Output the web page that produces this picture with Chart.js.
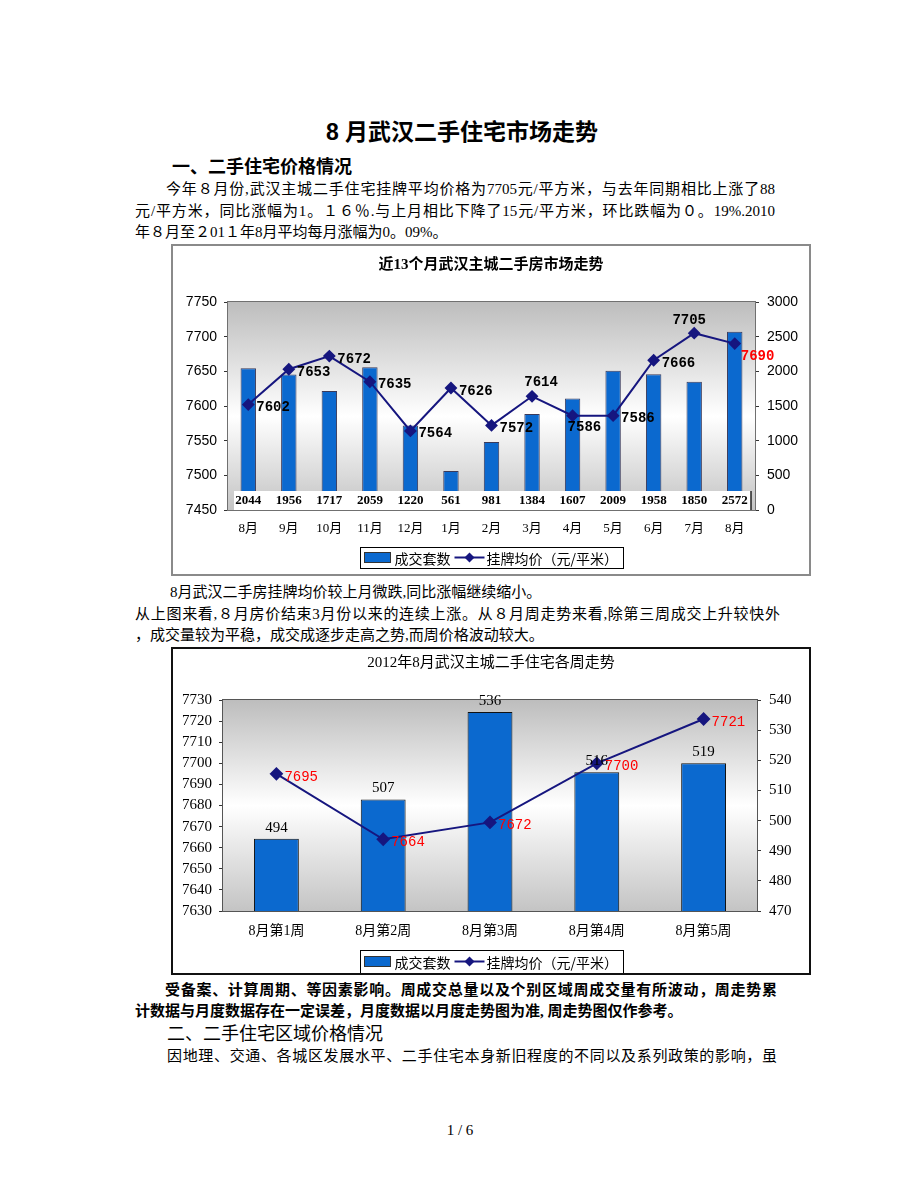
<!DOCTYPE html>
<html>
<head>
<meta charset="utf-8">
<script src="https://cdn.jsdelivr.net/npm/chart.js@4.4.0/dist/chart.umd.min.js"></script>
<style>
body{margin:0;background:#fff;}
#page{position:relative;width:920px;height:1191px;overflow:hidden;color:#000;
  font-family:"Liberation Serif","Noto Sans CJK SC",serif;}
.ln{position:absolute;white-space:nowrap;font-size:15px;line-height:20px;height:20px;}
.jf{text-align:justify;text-align-last:justify;}
.b{font-weight:bold;}
.hd{font-family:"Liberation Sans","Noto Sans CJK SC",sans-serif;font-size:18px;line-height:24px;height:24px;}
.frame{position:absolute;box-sizing:border-box;pointer-events:none;}
canvas{position:absolute;}
</style>
</head>
<body>
<div id="page">
  <div class="ln hd b" style="left:0;width:924px;text-align:center;top:118px;font-size:23px;line-height:28px;height:28px;">8 月武汉二手住宅市场走势</div>
  <div class="ln hd b" style="left:172px;top:155px;">一、二手住宅价格情况</div>
  <div class="ln jf" style="left:166px;width:609px;top:179px;">今年８月份,武汉主城二手住宅挂牌平均价格为7705元/平方米，与去年同期相比上涨了88</div>
  <div class="ln jf" style="left:135px;width:640px;top:201px;">元/平方米，同比涨幅为1。１６％.与上月相比下降了15元/平方米，环比跌幅为０。19%.2010</div>
  <div class="ln" style="left:135px;top:222px;">年８月至２01１年8月平均每月涨幅为0。09%。</div>

  <canvas id="monthChart" width="640" height="332" style="left:171px;top:244px;"></canvas>
  <div class="frame" style="left:171px;top:244px;width:640px;height:332px;border:2px solid #8a8a8a;"></div>

  <div class="ln" style="left:170px;top:582px;">8月武汉二手房挂牌均价较上月微跌,同比涨幅继续缩小。</div>
  <div class="ln jf" style="left:135px;width:645px;top:604px;">从上图来看,８月房价结束3月份以来的连续上涨。从８月周走势来看,除第三周成交上升较快外</div>
  <div class="ln" style="left:135px;top:625px;">，成交量较为平稳，成交成逐步走高之势,而周价格波动较大。</div>

  <canvas id="weekChart" width="640" height="328" style="left:171px;top:647px;"></canvas>
  <div class="frame" style="left:171px;top:647px;width:640px;height:328px;border:2px solid #111;"></div>

  <div class="ln jf b" style="left:165px;width:612px;top:980px;">受备案、计算周期、等因素影响。周成交总量以及个别区域周成交量有所波动，周走势累</div>
  <div class="ln b" style="left:135px;top:1001px;">计数据与月度数据存在一定误差，月度数据以月度走势图为准, 周走势图仅作参考。</div>
  <div class="ln hd" style="left:167px;top:1022px;">二、二手住宅区域价格情况</div>
  <div class="ln jf" style="left:167px;width:610px;top:1046px;">因地理、交通、各城区发展水平、二手住宅本身新旧程度的不同以及系列政策的影响，虽</div>

  <div class="ln" style="left:0;width:920px;text-align:center;top:1120px;">1 / 6</div>
</div>

<script>
// monthly chart data
var months = ['8月', '9月', '10月', '11月', '12月', '1月', '2月', '3月', '4月', '5月', '6月', '7月', '8月'];
var monthDeals = [2044, 1956, 1717, 2059, 1220, 561, 981, 1384, 1607, 2009, 1958, 1850, 2572];
var monthPrice = [7602, 7653, 7672, 7635, 7564, 7626, 7572, 7614, 7586, 7586, 7666, 7705, 7690];
var monthPriceTicks = [7450, 7500, 7550, 7600, 7650, 7700, 7750];
var monthDealTicks = [0, 500, 1000, 1500, 2000, 2500, 3000];
var monthLabelPlace = ['r', 'r', 'r', 'r', 'r', 'r', 'r', 't', 'b', 'r', 'r', 't2', 'rb'];

// weekly chart data
var weeks = ['8月第1周', '8月第2周', '8月第3周', '8月第4周', '8月第5周'];
var weekDeals = [494, 507, 536, 516, 519];
var weekPrice = [7695, 7664, 7672, 7700, 7721];
var weekPriceTicks = [7630, 7640, 7650, 7660, 7670, 7680, 7690, 7700, 7710, 7720, 7730];
var weekDealTicks = [470, 480, 490, 500, 510, 520, 530, 540];

var blue = '#0b69cf';
var navy = '#16167f';
var cjk = '"Noto Sans CJK SC"';
var serif = '"Liberation Serif", "Noto Sans CJK SC"';

function yAxis(ticks, pos, width, font, pad) {
    return {
        type: 'linear',
        position: pos,
        min: ticks[0],
        max: ticks[ticks.length - 1],
        afterFit: function (s) { s.width = width },
        grid: { drawOnChartArea: false, drawTicks: true, tickLength: 4, color: '#333' },
        border: { display: false },
        ticks: {
            stepSize: ticks[1] - ticks[0],
            padding: pad,
            color: '#000',
            font: font,
            callback: function (v) { return String(v) }
        }
    }
}

function xAxis(height, font, pad) {
    return {
        afterFit: function (s) { s.height = height },
        grid: { display: false, drawTicks: false },
        border: { display: false },
        ticks: { padding: pad, color: '#000', font: font, maxRotation: 0, autoSkip: false }
    }
}

function placeLabel(ctx, x, y, text, place) {
    if (place == 't') { ctx.textAlign = 'center'; ctx.fillText(text, x + 9, y - 14) }
    else if (place == 't2') { ctx.textAlign = 'center'; ctx.fillText(text, x - 5, y - 13) }
    else if (place == 'b') { ctx.textAlign = 'left'; ctx.fillText(text, x - 5, y + 12) }
    else if (place == 'rb') { ctx.textAlign = 'left'; ctx.fillText(text, x + 6, y + 13) }
    else { ctx.textAlign = 'left'; ctx.fillText(text, x + 8, y + 3) }
}

// plot background, value table, labels, title and legend
var decor = {
    id: 'decor',
    beforeDraw: function (chart, args, o) {
        var a = chart.chartArea, ctx = chart.ctx;
        ctx.save();
        var g = ctx.createLinearGradient(0, a.top, 0, a.bottom);
        g.addColorStop(0, '#bdbdbd');
        g.addColorStop(o.bgMid, '#ffffff');
        g.addColorStop(1, '#c4c4c4');
        ctx.fillStyle = g;
        ctx.fillRect(a.left, a.top, a.right - a.left, a.bottom - a.top);
        ctx.restore();
    },
    afterDatasetsDraw: function (chart, args, o) {
        var a = chart.chartArea, ctx = chart.ctx;
        var bars = chart.getDatasetMeta(1).data;
        var points = chart.getDatasetMeta(0).data;
        var barValues = chart.data.datasets[1].data;
        var lineValues = chart.data.datasets[0].data;
        ctx.save();
        ctx.textBaseline = 'middle';

        if (o.table) {
            ctx.fillStyle = '#fff';
            ctx.fillRect(a.left + 6, a.bottom - 19, a.right - a.left - 10, 19);
            ctx.strokeStyle = '#222';
            ctx.lineWidth = 1.5;
            ctx.beginPath();
            ctx.moveTo(a.right - 4, a.bottom - 19);
            ctx.lineTo(a.right - 4, a.bottom);
            ctx.stroke();
            ctx.fillStyle = '#000';
            ctx.font = 'bold 13px "Liberation Serif"';
            ctx.textAlign = 'center';
            barValues.forEach(function (v, i) { ctx.fillText(v, bars[i].x, a.bottom - 9) });
        } else {
            ctx.fillStyle = '#000';
            ctx.font = '15px "Liberation Serif"';
            ctx.textAlign = 'center';
            barValues.forEach(function (v, i) { ctx.fillText(v, bars[i].x, bars[i].y - 11) });
        }

        ctx.strokeStyle = o.frame;
        ctx.lineWidth = 1;
        ctx.strokeRect(a.left - 0.5, a.top - 0.5, a.right - a.left + 1, a.bottom - a.top + 1);

        ctx.font = o.lineFont;
        lineValues.forEach(function (v, i) {
            ctx.fillStyle = (o.red || i == lineValues.length - 1) ? '#ff0000' : '#000';
            placeLabel(ctx, points[i].x, points[i].y, v, o.places ? o.places[i] : 'r');
        });
        ctx.restore();
    },
    afterDraw: function (chart, args, o) {
        var ctx = chart.ctx;
        ctx.save();
        ctx.fillStyle = '#000';
        ctx.textAlign = 'center';
        ctx.textBaseline = 'middle';
        ctx.font = o.titleFont;
        ctx.fillText(o.title, chart.width / 2, o.titleY);

        // legend box
        var names = [chart.data.datasets[1].label, chart.data.datasets[0].label];
        ctx.font = '14px ' + cjk;
        var w1 = ctx.measureText(names[0]).width, w2 = ctx.measureText(names[1]).width;
        var w = Math.round(4 + 26 + 4 + w1 + 4 + 30 + 2 + w2 + 6);
        var x = Math.round(chart.width / 2 - w / 2) + 0.5, y = o.legendTop + 0.5, h = o.legendH;
        var mid = o.legendTop + h / 2;
        ctx.fillStyle = '#fff';
        ctx.fillRect(x, y, w, h);
        ctx.strokeStyle = '#000';
        ctx.lineWidth = 1;
        ctx.strokeRect(x, y, w, h);
        var px = x + 4;
        ctx.fillStyle = blue;
        ctx.fillRect(px, mid - 5, 26, 10);
        ctx.strokeStyle = '#333';
        ctx.strokeRect(px, mid - 5, 26, 10);
        px += 30;
        ctx.fillStyle = '#000';
        ctx.textAlign = 'left';
        ctx.fillText(names[0], px, mid + 1);
        px += w1 + 4;
        ctx.strokeStyle = navy;
        ctx.lineWidth = 2;
        ctx.beginPath();
        ctx.moveTo(px, mid);
        ctx.lineTo(px + 30, mid);
        ctx.stroke();
        ctx.fillStyle = navy;
        ctx.beginPath();
        ctx.moveTo(px + 15, mid - 5);
        ctx.lineTo(px + 20, mid);
        ctx.lineTo(px + 15, mid + 5);
        ctx.lineTo(px + 10, mid);
        ctx.closePath();
        ctx.fill();
        px += 32;
        ctx.fillStyle = '#000';
        ctx.fillText(names[1], px, mid + 1);
        ctx.restore();
    }
};

Chart.defaults.font.family = serif;

var monthCanvas = document.getElementById('monthChart').getContext('2d');
var monthChart = new Chart(monthCanvas, {
    type: 'bar',
    data: {
        labels: months,
        datasets: [
            {
                type: 'line',
                label: '挂牌均价（元/平米）',
                data: monthPrice,
                yAxisID: 'y',
                borderColor: navy,
                backgroundColor: navy,
                borderWidth: 2,
                pointStyle: 'rectRot',
                pointRadius: 5,
                tension: 0,
                order: 0
            },
            {
                label: '成交套数',
                data: monthDeals,
                yAxisID: 'y1',
                backgroundColor: blue,
                borderColor: '#3a3a5a',
                borderWidth: 1,
                barPercentage: 0.38,
                categoryPercentage: 1,
                order: 1
            }
        ]
    },
    options: {
        responsive: false,
        animation: false,
        layout: { padding: { top: 58, left: 0, right: 0, bottom: 0 } },
        scales: {
            x: xAxis(66, { size: 13, family: serif }, 11),
            y: yAxis(monthPriceTicks, 'left', 57, { size: 14, family: '"Liberation Sans"' }, 7),
            y1: yAxis(monthDealTicks, 'right', 56, { size: 14, family: '"Liberation Sans"' }, 8)
        },
        plugins: {
            legend: { display: false },
            tooltip: { enabled: false },
            decor: {
                bgMid: 0.55,
                table: true,
                frame: '#707070',
                lineFont: 'bold 14px "Liberation Mono"',
                places: monthLabelPlace,
                red: false,
                title: '近13个月武汉主城二手房市场走势',
                titleFont: 'bold 15px ' + serif,
                titleY: 21,
                legendTop: 303,
                legendH: 21
            }
        }
    },
    plugins: [decor]
});

var weekCanvas = document.getElementById('weekChart').getContext('2d');
var weekChart = new Chart(weekCanvas, {
    type: 'bar',
    data: {
        labels: weeks,
        datasets: [
            {
                type: 'line',
                label: '挂牌均价（元/平米）',
                data: weekPrice,
                yAxisID: 'y',
                borderColor: navy,
                backgroundColor: navy,
                borderWidth: 2,
                pointStyle: 'rectRot',
                pointRadius: 5.5,
                tension: 0,
                order: 0
            },
            {
                label: '成交套数',
                data: weekDeals,
                yAxisID: 'y1',
                backgroundColor: blue,
                borderColor: '#111',
                borderWidth: 1,
                barPercentage: 0.42,
                categoryPercentage: 1,
                order: 1
            }
        ]
    },
    options: {
        responsive: false,
        animation: false,
        layout: { padding: { top: 53, left: 0, right: 0, bottom: 0 } },
        scales: {
            x: xAxis(64, { size: 14, family: serif }, 12),
            y: yAxis(weekPriceTicks, 'left', 52, { size: 15, family: '"Liberation Serif"' }, 7),
            y1: yAxis(weekDealTicks, 'right', 54, { size: 15, family: '"Liberation Serif"' }, 8)
        },
        plugins: {
            legend: { display: false },
            tooltip: { enabled: false },
            decor: {
                bgMid: 0.5,
                table: false,
                frame: '#555',
                lineFont: '14px "Liberation Mono"',
                red: true,
                title: '2012年8月武汉主城二手住宅各周走势',
                titleFont: '15px ' + serif,
                titleY: 16,
                legendTop: 303,
                legendH: 23
            }
        }
    },
    plugins: [decor]
});
</script>
</body>
</html>
